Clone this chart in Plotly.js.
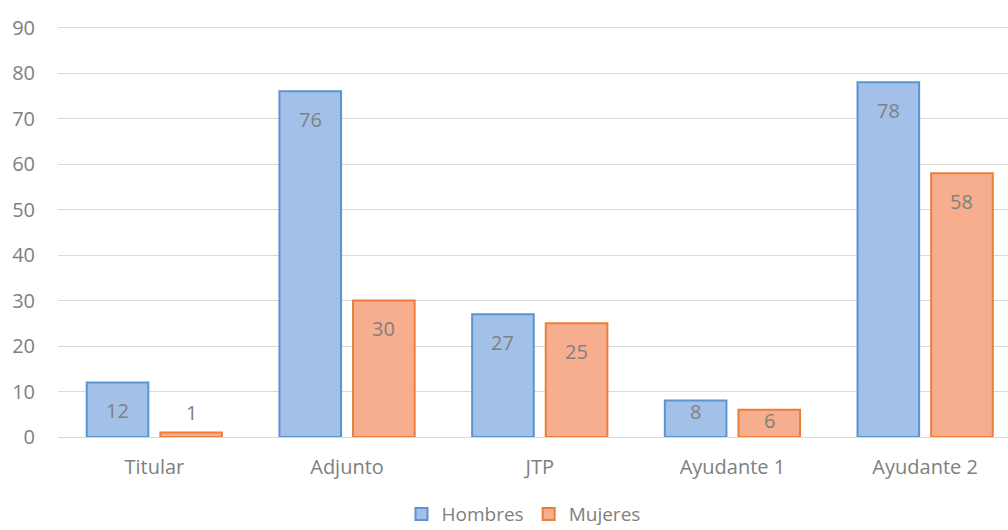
<!DOCTYPE html>
<html>
<head>
<meta charset="utf-8">
<script src="https://cdn.plot.ly/plotly-3.0.1.min.js"></script>
<style>html,body{margin:0;padding:0;background:#fff;}#chart{width:1008px;height:530px;}</style>
</head>
<body>
<div id="chart"></div>
<script>
var categories = ['Titular', 'Adjunto', 'JTP', 'Ayudante 1', 'Ayudante 2'];
var hombres = [12, 76, 27, 8, 78];
var mujeres = [1, 30, 25, 6, 58];
var seriesNames = ['Hombres', 'Mujeres'];
var yTicks = [0, 10, 20, 30, 40, 50, 60, 70, 80, 90];

var FONT = '"Open Sans", sans-serif';
var GREY = '#808080';
var FS = 20;

function barTrace(name, vals, fill, line) {
  return {
    type: 'bar', name: name, x: categories, y: vals,
    marker: {color: fill, line: {color: line, width: 2}},
    hoverinfo: 'skip'
  };
}

var traces = [
  barTrace(seriesNames[0], hombres, '#a3c0e8', '#5b93d3'),
  barTrace(seriesNames[1], mujeres, '#f6ae8e', '#ec7d3a')
];

var slotOffset = 0.191;
function labelShift(v) {
  if (v >= 10) return -28;
  if (v >= 3) return -11;
  return 20;
}
var annotations = [];
[hombres, mujeres].forEach(function (vals, s) {
  vals.forEach(function (v, i) {
    annotations.push({
      xref: 'x', yref: 'y',
      x: i + (s === 0 ? -slotOffset : slotOffset), y: v,
      text: String(v), showarrow: false,
      yanchor: 'middle', yshift: labelShift(v),
      font: {family: FONT, size: FS, color: GREY}
    });
  });
});

var layout = {
  width: 1008, height: 530,
  margin: {l: 57.6, r: 0, t: 22.5, b: 93},
  paper_bgcolor: '#ffffff', plot_bgcolor: '#ffffff',
  barmode: 'group', bargap: 0.236, bargroupgap: 0.163,
  font: {family: FONT, size: FS, color: GREY},
  showlegend: true,
  legend: {
    orientation: 'h', xref: 'paper', x: 0.49, xanchor: 'center',
    yref: 'container', y: 0.03, yanchor: 'middle',
    font: {family: FONT, size: 19, color: GREY}, itemwidth: 30, tracegroupgap: 0
  },
  xaxis: {
    type: 'category', range: [-0.5, 4.43],
    showgrid: false, zeroline: false, showline: false,
    ticks: 'outside', ticklen: 12, tickcolor: 'rgba(0,0,0,0)',
    tickfont: {family: FONT, size: FS, color: GREY}
  },
  yaxis: {
    range: [0, 91], tickvals: yTicks, ticktext: yTicks.map(String),
    showgrid: true, gridcolor: '#d9d9d9', gridwidth: 1,
    zeroline: true, zerolinecolor: '#d9d9d9', zerolinewidth: 1,
    showline: false,
    ticks: 'outside', ticklen: 18, tickcolor: 'rgba(0,0,0,0)',
    tickfont: {family: FONT, size: FS, color: GREY}
  },
  annotations: annotations
};

Plotly.newPlot('chart', traces, layout, {displayModeBar: false, staticPlot: true});
</script>
</body>
</html>
